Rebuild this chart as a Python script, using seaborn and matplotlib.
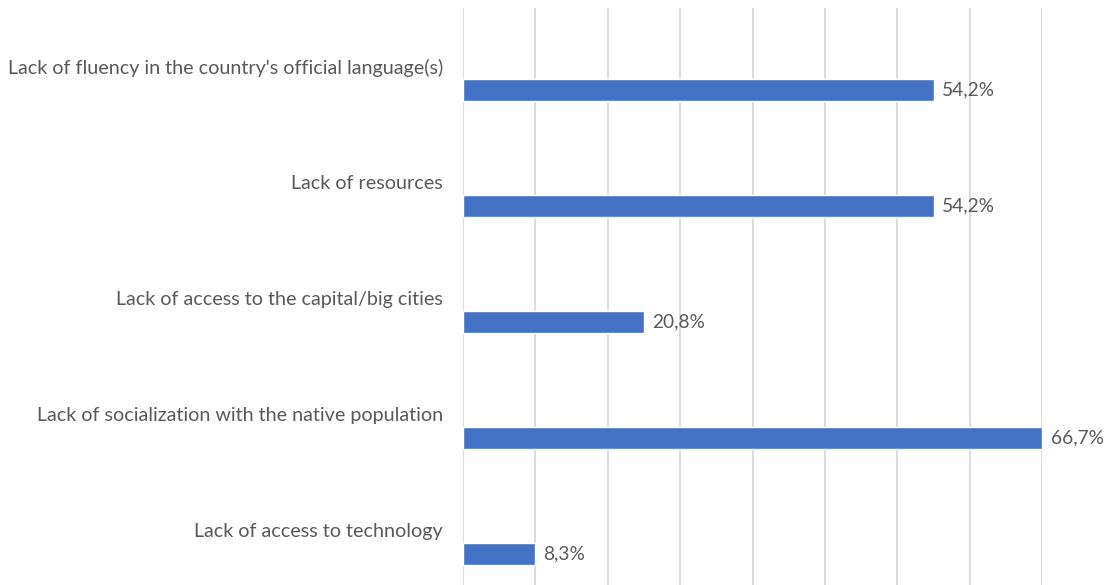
import numpy as np
import pandas as pd
import matplotlib
matplotlib.use("Agg")
import matplotlib.pyplot as plt
import seaborn as sns

# Survey results: share of respondents naming each obstacle
categories = [
    "Lack of fluency in the country's official language(s)",
    "Lack of resources",
    "Lack of access to the capital/big cities",
    "Lack of socialization with the native population",
    "Lack of access to technology",
]
shares = [54.2, 54.2, 20.8, 66.7, 8.3]

# Vertical gridlines every 1/12 (two respondents out of 24)
grid_step = 100 / 12
grid_count = 9

BAR_COLOR = "#4472C4"
TEXT_COLOR = "#595959"
GRID_COLOR = "#D9D9D9"
FONT_SIZE = 14.2
VALUE_FONT_SIZE = 13.8

sns.set_theme(style="white")
plt.rcParams["font.family"] = ["Lato", "DejaVu Sans"]

W, H = 1104, 585
fig = plt.figure(figsize=(W / 100, H / 100), dpi=100)
left_px, right_px, top_px = 463, 1042, 8
ax = fig.add_axes([left_px / W, 0, (right_px - left_px) / W, (H - top_px) / H])

# Bars sit in the lower half of each category band, below their label
bar_offset = 0.207
df = pd.DataFrame({
    "pos": np.arange(len(categories)) + bar_offset,
    "share": shares,
})
sns.barplot(data=df, x="share", y="pos", orient="h", native_scale=True,
            width=0.195, color=BAR_COLOR, saturation=1, ax=ax, zorder=3)

labels = [f"{v:.1f}%".replace(".", ",") for v in shares]
ax.bar_label(ax.containers[0], labels=labels, padding=6,
             fontsize=VALUE_FONT_SIZE, color=TEXT_COLOR, clip_on=False)

ax.set_xlim(0, grid_step * (grid_count - 1))
ax.set_xticks(np.arange(grid_count) * grid_step)
ax.set_xticklabels([])
ax.xaxis.grid(True, color=GRID_COLOR, linewidth=1.3, zorder=0)
ax.set_axisbelow(True)

ax.set_ylim(len(categories) - 0.5 - 3 / 116, -0.5)
ax.set_yticks(np.arange(len(categories)))
ax.set_yticklabels(categories, fontsize=FONT_SIZE, color=TEXT_COLOR)
ax.tick_params(axis="both", length=0)
ax.tick_params(axis="y", pad=14.4)
ax.set_xlabel("")
ax.set_ylabel("")
for s in ax.spines.values():
    s.set_visible(False)

fig.savefig("out.png", dpi=100, facecolor="white")
